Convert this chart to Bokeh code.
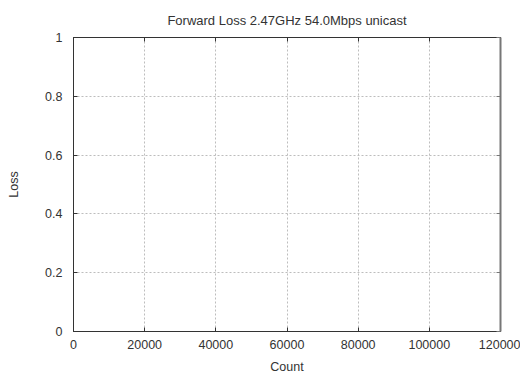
from bokeh.plotting import figure
from bokeh.models import Range1d, FixedTicker, LinearAxis, ColumnDataSource
from bokeh.embed import file_html
from bokeh.resources import INLINE

# Data (the reference chart holds no data points)
count = []
loss = []

x_ticks = [0, 20000, 40000, 60000, 80000, 100000, 120000]
x_tick_labels = ["0", "20000", "40000", "60000", "80000", "100000", "120000"]
y_ticks = [0, 0.2, 0.4, 0.6, 0.8, 1.0]
y_tick_labels = ["0", "0.2", "0.4", "0.6", "0.8", "1"]

FONT = "Liberation Sans"
TXT = "#333333"
FRAME = "#333333"

p = figure(width=520, height=376, output_backend="svg", toolbar_location=None,
           x_range=Range1d(0, 120000), y_range=Range1d(0, 1),
           min_border_left=73, min_border_right=20, min_border_top=37, min_border_bottom=45,
           title="Forward Loss 2.47GHz 54.0Mbps unicast")

src = ColumnDataSource(data=dict(count=count, loss=loss))
p.line("count", "loss", source=src, line_color="#9400d3")

p.title.align = "center"
p.title.text_font = FONT
p.title.text_font_size = "13px"
p.title.text_font_style = "normal"
p.title.text_color = TXT
p.title.standoff = 19
p.title.offset = 0

p.outline_line_color = FRAME
p.outline_line_width = 1
p.outline_line_alpha = 1

xt = FixedTicker(ticks=x_ticks)
yt = FixedTicker(ticks=y_ticks)

for ax in p.xaxis:
    ax.ticker = xt
    ax.major_label_overrides = {t: l for t, l in zip(x_ticks, x_tick_labels)}
    ax.axis_label = "Count"
    ax.axis_label_standoff = 8
    ax.major_label_standoff = 8
for ax in p.yaxis:
    ax.ticker = yt
    ax.major_label_overrides = {t: l for t, l in zip(y_ticks, y_tick_labels)}
    ax.axis_label = "Loss"
    ax.axis_label_standoff = 21
    ax.major_label_standoff = 11

for ax in list(p.xaxis) + list(p.yaxis):
    ax.major_tick_in = 4
    ax.major_tick_out = 0
    ax.minor_tick_line_color = None
    ax.axis_line_color = FRAME
    ax.major_tick_line_color = FRAME
    ax.major_label_text_font = FONT
    ax.major_label_text_font_size = "12.5px"
    ax.major_label_text_color = TXT
    ax.axis_label_text_font = FONT
    ax.axis_label_text_font_size = "12.5px"
    ax.axis_label_text_font_style = "normal"
    ax.axis_label_text_color = TXT

# mirrored ticks on top and right (no labels)
top = LinearAxis(ticker=xt, major_label_overrides={t: "" for t in x_ticks},
                 major_label_text_font_size="1px",
                 major_tick_in=4, major_tick_out=0,
                 minor_tick_line_color=None, axis_line_color=FRAME, major_tick_line_color=FRAME,
                 major_label_standoff=0)
right = LinearAxis(ticker=yt, major_label_overrides={t: "" for t in y_ticks},
                   major_tick_in=4, major_tick_out=0,
                   minor_tick_line_color=None, axis_line_color="#777777", axis_line_width=2,
                   major_tick_line_color="#777777", major_label_standoff=0)
p.add_layout(top, "above")
p.add_layout(right, "right")

p.grid.grid_line_color = "#bdbdbd"
p.grid.grid_line_dash = "2 2"
p.grid.grid_line_width = 1
p.xgrid.ticker = xt
p.ygrid.ticker = yt

p.background_fill_color = "white"
p.border_fill_color = "white"

open("out.html", "w").write(file_html(p, INLINE))
